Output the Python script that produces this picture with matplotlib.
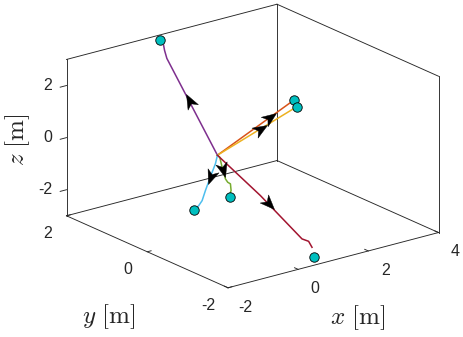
import itertools
import numpy as np
import matplotlib
matplotlib.use("Agg")
import matplotlib.pyplot as plt
from matplotlib.markers import MarkerStyle
from matplotlib.path import Path
from matplotlib.transforms import Affine2D
from mpl_toolkits.mplot3d import proj3d

XLIM, YLIM, ZLIM = (-2, 4), (-2, 2), (-3, 3)
XTICKS, YTICKS, ZTICKS = [-2, 0, 2, 4], [-2, 0, 2], [-2, 0, 2]

# trajectories (x, y, z) [m], all start at the origin
traj_purple = [[0, 0, 0], [0.40, 1.60, 2.47], [0.45, 1.70, 2.69], [0.48, 1.75, 2.84]]
traj_orange = [[0, 0, 0], [2.50, 0.30, 1.00]]
traj_yellow = [[0, 0, 0], [2.50, 0.24, 0.78]]
traj_green = [[0, 0, 0], [0.066, 0.0, -0.10], [0.125, -0.008, -0.50], [0.188, -0.035, -0.95],
              [0.197, -0.084, -1.05], [0.234, -0.119, -1.10], [0.238, -0.132, -1.35], [0.230, -0.123, -1.42]]
traj_cyan = [[0, 0, 0], [-0.016, 0.036, -0.35], [-0.047, 0.090, -0.70], [-0.119, 0.194, -1.45],
             [-0.162, 0.238, -1.85], [-0.215, 0.276, -2.05], [-0.290, 0.300, -2.18]]
traj_red = [[0, 0, 0], [0.405, -0.712, -1.20], [0.770, -1.426, -2.50], [0.897, -1.479, -2.60],
            [0.926, -1.538, -2.80]]

# end markers
goal_purple = [0.53, 1.88, 2.95]
goal_orange = [2.53, 0.30, 1.02]
goal_yellow = [2.52, 0.23, 0.79]
goal_green = [0.205, -0.127, -1.60]
goal_cyan = [-0.31, 0.30, -2.20]
goal_red = [0.71, -1.77, -2.95]

# where the arrowhead tip sits along each path (segment index + fraction)
arrow_at = {"purple": 0.63, "orange": 0.77, "yellow": 0.63, "green": 2.8, "cyan": 2.63, "red": 1.32}

TRAJ = {"purple": traj_purple, "orange": traj_orange, "yellow": traj_yellow,
        "green": traj_green, "cyan": traj_cyan, "red": traj_red}
GOALS = [goal_purple, goal_orange, goal_yellow, goal_green, goal_cyan, goal_red]
CORES = {"purple": "#7E2F8E", "orange": "#D95319", "yellow": "#EDB120",
         "green": "#77AC30", "cyan": "#4DBEEE", "red": "#A2142F"}
EIXO = "#262626"

plt.rcParams["font.family"] = ["Liberation Sans", "DejaVu Sans"]
plt.rcParams["mathtext.fontset"] = "cm"

# stealth-like arrowhead, tip at the origin, pointing to +x
PONTA = Path([(0, 0), (-2, 0.8), (-1.45, 0), (-2, -0.8), (0, 0)],
             [Path.MOVETO, Path.LINETO, Path.LINETO, Path.LINETO, Path.CLOSEPOLY])


def ponto(path, s):
    i = int(s)
    a, b = np.asarray(path[i], float), np.asarray(path[i + 1], float)
    return a + (s - i) * (b - a), a


fig = plt.figure(figsize=(4.64, 3.37), dpi=100, facecolor="white")
ax = fig.add_axes([0.1, 0.1, 0.8, 0.8], projection="3d", computed_zorder=False)
ax.set_proj_type("ortho")
ax.view_init(elev=20, azim=-127.5)
ax.set_box_aspect((1, 1, 0.627))
ax.set_xlim(*XLIM); ax.set_ylim(*YLIM); ax.set_zlim(*ZLIM)
ax.set_axis_off()

# MATLAB-style back box
x0, x1 = XLIM; y0, y1 = YLIM; z0, z1 = ZLIM
arestas = [((x0, y0, z0), (x1, y0, z0)), ((x0, y0, z0), (x0, y1, z0)), ((x0, y1, z0), (x1, y1, z0)),
           ((x1, y0, z0), (x1, y1, z0)), ((x1, y0, z0), (x1, y0, z1)), ((x1, y1, z0), (x1, y1, z1)),
           ((x0, y1, z0), (x0, y1, z1)), ((x1, y0, z1), (x1, y1, z1)), ((x0, y1, z1), (x1, y1, z1))]
for a, b in arestas:
    ax.plot(*zip(a, b), color=EIXO, lw=0.65, zorder=1)

# tick marks
for xt in XTICKS:
    ax.plot([xt, xt], [y0, y0 + 0.09], [z0, z0], color=EIXO, lw=0.65, zorder=1)
for yt in YTICKS:
    ax.plot([x0, x0 + 0.11], [yt, yt], [z0, z0], color=EIXO, lw=0.65, zorder=1)
for zt in ZTICKS:
    ax.plot([x0, x0 - 0.18], [y1, y1], [zt, zt], color=EIXO, lw=0.65, zorder=1)

for nome, path in TRAJ.items():
    p = np.asarray(path)
    ax.plot(p[:, 0], p[:, 1], p[:, 2], color=CORES[nome], lw=1.1, zorder=2)

g = np.asarray(GOALS)
ax.plot(g[:, 0], g[:, 1], g[:, 2], "o", ms=6.8, mfc="#00BFBF", mec="black", mew=0.6, ls="none", zorder=4)

fig.text(358 / 464, 1 - 318 / 337, r"$x\ [\mathrm{m}]$", fontsize=18, ha="center", va="center", color=EIXO)
fig.text(109 / 464, 1 - 317 / 337, r"$y\ [\mathrm{m}]$", fontsize=18, ha="center", va="center", color=EIXO)
fig.text(17.5 / 464, 1 - 139.5 / 337, r"$z\ [\mathrm{m}]$", fontsize=18, ha="center", va="center",
         rotation=90, color=EIXO)

# fit the projected box onto the reference frame (width 372 px, centre at 252.5, 191)
W, H = 464, 337
for _ in range(4):
    fig.canvas.draw()
    c = np.array(list(itertools.product(XLIM, YLIM, ZLIM)), float).T
    xs, ys, _ = proj3d.proj_transform(c[0], c[1], c[2], ax.get_proj())
    px = ax.transData.transform(np.column_stack([xs, ys]))
    bb = ax.get_position()
    k = 372 / np.ptp(px[:, 0])
    centro_box = (px.min(0) + px.max(0)) / 2
    centro_ax = np.array([(bb.x0 + bb.x1) / 2 * W, (bb.y0 + bb.y1) / 2 * H])
    lado = bb.width * W * k
    novo = np.array([252.5, 191.0]) + (centro_ax - centro_box) * k
    ax.set_position([(novo[0] - lado / 2) / W, (novo[1] - lado / 2) / H, lado / W, lado / H])
fig.canvas.draw()
M = ax.get_proj()


def tela(pt):
    xs, ys, _ = proj3d.proj_transform(np.array([pt[0]]), np.array([pt[1]]), np.array([pt[2]]), M)
    return xs[0], ys[0]


# arrowheads: rotated markers, angle taken from the projected segment
for nome, path in TRAJ.items():
    tip, base = ponto(path, arrow_at[nome])
    (ax_, ay_), (bx_, by_) = ax.transData.transform([tela(base), tela(tip)])
    ang = np.degrees(np.arctan2(by_ - ay_, bx_ - ax_))
    m = MarkerStyle(PONTA, transform=Affine2D().rotate_deg(ang))
    ax.plot([tip[0]], [tip[1]], [tip[2]], ls="none", marker=m, ms=21, mfc="black", mec="black",
            mew=0.3, zorder=3)


# tick labels as plain 2D text at the projected anchor points
def rotulo(x, y, z, s, **kw):
    px_, py_ = tela((x, y, z))
    ax.text2D(px_, py_, s, transform=ax.transData, fontsize=11.5, color=EIXO, va="center", **kw)


for xt in XTICKS:
    rotulo(xt, y0 - 0.42, z0 - 0.45, str(xt), ha="center")
for yt in YTICKS:
    rotulo(x0 - 0.55, yt, z0 - 0.5, str(yt), ha="center")
for zt in ZTICKS:
    rotulo(x0 - 0.26, y1 + 0.13, zt, str(zt), ha="right")

fig.savefig("out.png", dpi=100, facecolor="white")
